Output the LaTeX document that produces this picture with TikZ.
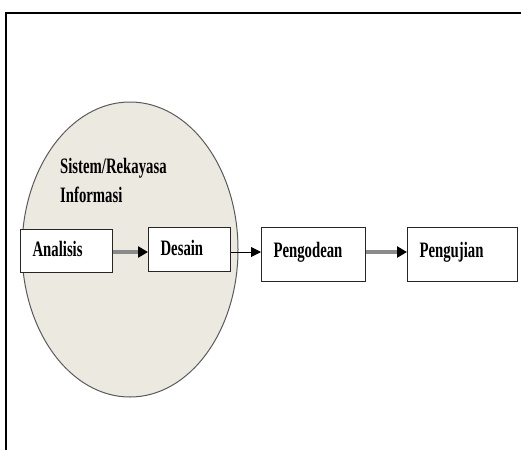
\documentclass[tikz,border=0pt]{standalone}
\usepackage{fontspec}
\setmainfont{Liberation Serif}[FakeStretch=0.67]
\usetikzlibrary{arrows.meta,shapes.geometric}
\definecolor{ovalfill}{HTML}{ECEAE0}
\definecolor{ovaledge}{HTML}{5A5A5A}
\definecolor{shaft}{HTML}{8A8A8A}
\begin{document}
\begin{tikzpicture}[x=1pt,y=-1pt,
  lbl/.style={font=\fontsize{22}{26}\selectfont\bfseries, inner sep=0pt, anchor=base west},
  stage/.style={draw=black!85, line width=1.2pt, fill=white, anchor=north west,
    font=\fontsize{22}{26}\selectfont\bfseries, align=left,
    inner xsep=12pt, inner ysep=0pt, text height=15pt, text depth=4pt},
  tall/.style={text depth=9pt},
  heavy/.style={draw=shaft, line width=3.5pt, -{Triangle[black,length=10pt,width=11pt]}, shorten >=0pt},
  thin/.style={draw=black, line width=1pt, -{Triangle[black,length=10pt,width=10pt]}}
]
\useasboundingbox (0,0) rectangle (521,450);
% outer frame (open on the right and bottom)
\draw[line width=1.4pt] (521,13) -- (6,13) -- (6,450);
% information-system oval
\node[ellipse, draw=ovaledge, fill=ovalfill, line width=1pt,
      minimum width=216pt, minimum height=295pt, inner sep=0pt] (sys) at (130,249.5) {};
\node[lbl] (t1) at (60,173) {Sistem/Rekayasa};
\node[lbl] (t2) at (60,202) {Informasi};
% stages
\node[stage, text width=68pt, minimum height=43pt] (ana) at (20,229) {Analisis};
\node[stage, text width=58pt, minimum height=44pt] (des) at (148,227) {Desain};
\node[stage, tall, text width=80pt, minimum height=54pt] (kod) at (261,227) {Pengodean};
\node[stage, tall, text width=86pt, minimum height=54pt] (uji) at (407,227) {Pengujian};
% connectors
\draw[heavy] (ana.east |- 0,252) -- (des.west |- 0,252);
\draw[thin] (des.east |- 0,252) -- (kod.west |- 0,252);
\draw[heavy] (kod.east |- 0,252) -- (uji.west |- 0,252);
\end{tikzpicture}
\end{document}
